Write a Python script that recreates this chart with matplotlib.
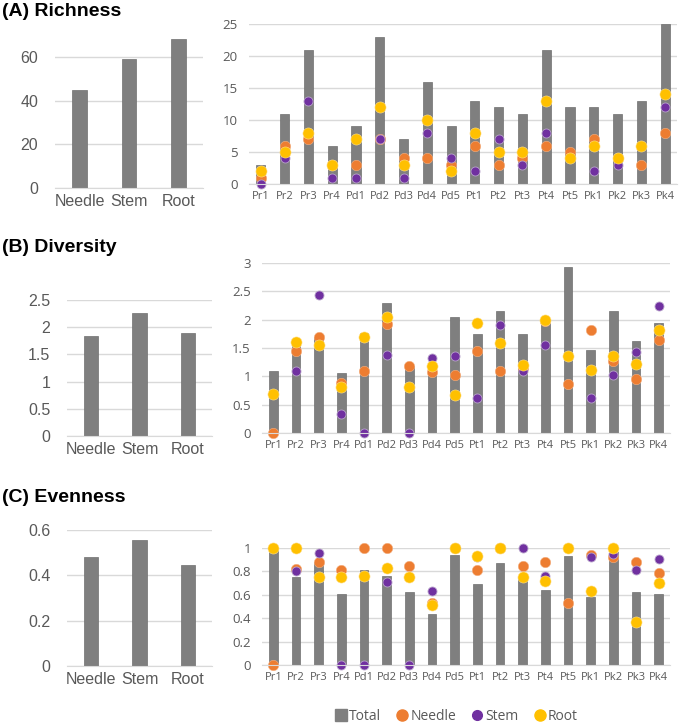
import numpy as np
import matplotlib.pyplot as plt
from matplotlib.lines import Line2D

W, H = 685, 723

sites = ["Pr1", "Pr2", "Pr3", "Pr4", "Pd1", "Pd2", "Pd3", "Pd4", "Pd5",
         "Pt1", "Pt2", "Pt3", "Pt4", "Pt5", "Pk1", "Pk2", "Pk3", "Pk4"]
tissues = ["Needle", "Stem", "Root"]

# (A) richness
rich_tissue = [45, 59, 68]
rich_total = [3, 11, 21, 6, 9, 23, 7, 16, 9, 13, 12, 11, 21, 12, 12, 11, 13, 25]
rich_needle = [1, 6, 7, 3, 3, 7, 4, 4, 3, 6, 3, 4, 6, 5, 7, 4, 3, 8]
rich_stem = [0, 4, 13, 1, 1, 7, 1, 8, 4, 2, 7, 3, 8, 4, 2, 3, 6, 12]
rich_root = [2, 5, 8, 3, 7, 12, 3, 10, 2, 8, 5, 5, 13, 4, 6, 4, 6, 14]

# (B) diversity
div_tissue = [1.84, 2.27, 1.89]
div_total = [1.10, 1.60, 1.70, 1.06, 1.76, 2.30, 1.19, 1.10, 2.05,
             1.75, 2.15, 1.75, 1.98, 2.93, 1.46, 2.15, 1.62, 1.94]
div_needle = [0.0, 1.44, 1.70, 0.89, 1.09, 1.92, 1.19, 1.08, 1.02,
              1.44, 1.09, 1.15, 1.98, 0.86, 1.81, 1.27, 0.95, 1.65]
div_stem = [np.nan, 1.10, 2.43, 0.34, 0.0, 1.37, 0.0, 1.32, 1.36,
            0.62, 1.91, 1.10, 1.55, 1.36, 0.62, 1.03, 1.43, 2.24]
div_root = [0.68, 1.60, 1.55, 0.82, 1.69, 2.05, 0.82, 1.18, 0.67,
            1.94, 1.59, 1.20, 1.99, 1.36, 1.12, 1.36, 1.22, 1.82]

# (C) evenness
even_tissue = [0.48, 0.556, 0.446]
even_total = [0.98, 0.75, 0.88, 0.605, 0.81, 0.76, 0.62, 0.44, 0.94,
              0.69, 0.875, 0.75, 0.64, 0.93, 0.58, 0.97, 0.625, 0.605]
even_needle = [0.0, 0.82, 0.88, 0.815, 1.0, 1.0, 0.85, 0.53, 1.0,
               0.81, 1.0, 0.85, 0.88, 0.53, 0.94, 0.92, 0.88, 0.79]
even_stem = [np.nan, 0.80, 0.96, 0.0, 0.0, 0.71, 0.0, 0.63, 1.0,
             0.92, 1.0, 1.0, 0.76, 1.0, 0.92, 0.95, 0.81, 0.91]
even_root = [1.0, 1.0, 0.75, 0.75, 0.76, 0.83, 0.75, 0.51, 1.0,
             0.93, 1.0, 0.75, 0.72, 1.0, 0.63, 1.0, 0.37, 0.70]

GRAY = "#7f7f7f"
GRID = "#d9d9d9"
TXT = "#595959"
C_NEEDLE = "#ed7d31"
C_STEM = "#7030a0"
C_ROOT = "#ffc000"


def px_axes(fig, x0, x1, ytop, ybot):
    return fig.add_axes([x0 / W, 1 - ybot / H, (x1 - x0) / W, (ybot - ytop) / H])


def style(ax, ticks, font, size):
    for s in ["top", "right", "left"]:
        ax.spines[s].set_visible(False)
    ax.spines["bottom"].set_color(GRID)
    ax.set_yticks(ticks)
    ax.yaxis.grid(True, color=GRID, lw=1)
    ax.set_axisbelow(True)
    ax.tick_params(length=0, colors=TXT, labelsize=size)
    for lab in ax.get_xticklabels() + ax.get_yticklabels():
        lab.set_fontfamily(font)


def left_panel(ax, vals, ylim, ticks, fmt):
    x = np.arange(len(tissues))
    ax.bar(x, vals, width=0.3, color=GRAY, edgecolor="#6f6f6f", lw=0.5)
    ax.set_xlim(-0.5, 2.5)
    ax.set_ylim(*ylim)
    ax.set_xticks(x)
    ax.set_xticklabels(tissues)
    ax.set_yticklabels([fmt(t) for t in ticks])
    style(ax, ticks, "Liberation Sans", 11.5)
    ax.tick_params(axis="y", pad=12)
    ax.tick_params(axis="x", pad=4)


def right_panel(ax, total, needle, stem, root, ylim, ticks, fmt):
    x = np.arange(len(sites))
    ax.bar(x, total, width=0.38, color=GRAY, edgecolor="#6f6f6f", lw=0.5, label="Total")
    ax.plot(x, needle, "o", ms=7.5, color=C_NEEDLE, mec="#f4b183", mew=0.4,
            clip_on=False, label="Needle")
    ax.plot(x, stem, "o", ms=6.5, color=C_STEM, mec="#b9a3cc", mew=0.6,
            clip_on=False, label="Stem")
    ax.plot(x, root, "o", ms=8, color=C_ROOT, mec="#ffe08a", mew=0.4,
            clip_on=False, label="Root")
    ax.set_xlim(-0.5, len(sites) - 0.5)
    ax.set_ylim(*ylim)
    ax.set_xticks(x)
    ax.set_xticklabels(sites)
    ax.set_yticklabels([fmt(t) for t in ticks])
    style(ax, ticks, "Open Sans", 8)
    ax.tick_params(axis="y", labelsize=9.5, pad=8)
    ax.tick_params(axis="x", pad=5)


def g(t):
    return f"{t:g}"


fig = plt.figure(figsize=(W / 100, H / 100), dpi=100)

# (A)
axA1 = px_axes(fig, 55, 203, 35, 188)
left_panel(axA1, rich_tissue, (0, 70), [0, 20, 40, 60], g)
axA2 = px_axes(fig, 249, 677, 24, 184)
right_panel(axA2, rich_total, rich_needle, rich_stem, rich_root,
            (0, 25), [0, 5, 10, 15, 20, 25], g)

# (B)
axB1 = px_axes(fig, 67, 212, 300, 436)
left_panel(axB1, div_tissue, (0, 2.5), [0, 0.5, 1, 1.5, 2, 2.5], g)
axB2 = px_axes(fig, 262, 670, 263, 433)
right_panel(axB2, div_total, div_needle, div_stem, div_root,
            (0, 3), [0, 0.5, 1, 1.5, 2, 2.5, 3], g)

# (C)
axC1 = px_axes(fig, 67, 212, 530, 666)
left_panel(axC1, even_tissue, (0, 0.6), [0, 0.2, 0.4, 0.6], g)
axC2 = px_axes(fig, 262, 670, 548, 665)
right_panel(axC2, even_total, even_needle, even_stem, even_root,
            (0, 1), [0, 0.2, 0.4, 0.6, 0.8, 1], g)

for label, y in [("(A) Richness", 12), ("(B) Diversity", 248), ("(C) Evenness", 497)]:
    fig.text(2 / W, 1 - y / H, label, fontsize=14, fontweight="bold",
             family="Liberation Sans", va="center", ha="left")

leg_handles = [
    Line2D([], [], marker="s", ls="", color=GRAY, ms=8),
    Line2D([], [], marker="o", ls="", color=C_NEEDLE, ms=8),
    Line2D([], [], marker="o", ls="", color=C_STEM, ms=7),
    Line2D([], [], marker="o", ls="", color=C_ROOT, ms=8),
]
fig.legend(leg_handles, ["Total", "Needle", "Stem", "Root"], loc="center",
           bbox_to_anchor=(456 / W, 1 - 716 / H), ncol=4, frameon=False,
           handletextpad=0.1, columnspacing=1.0, handlelength=1.0,
           prop={"family": "Open Sans", "size": 10}, labelcolor=TXT)

fig.savefig("out.png", dpi=100)
